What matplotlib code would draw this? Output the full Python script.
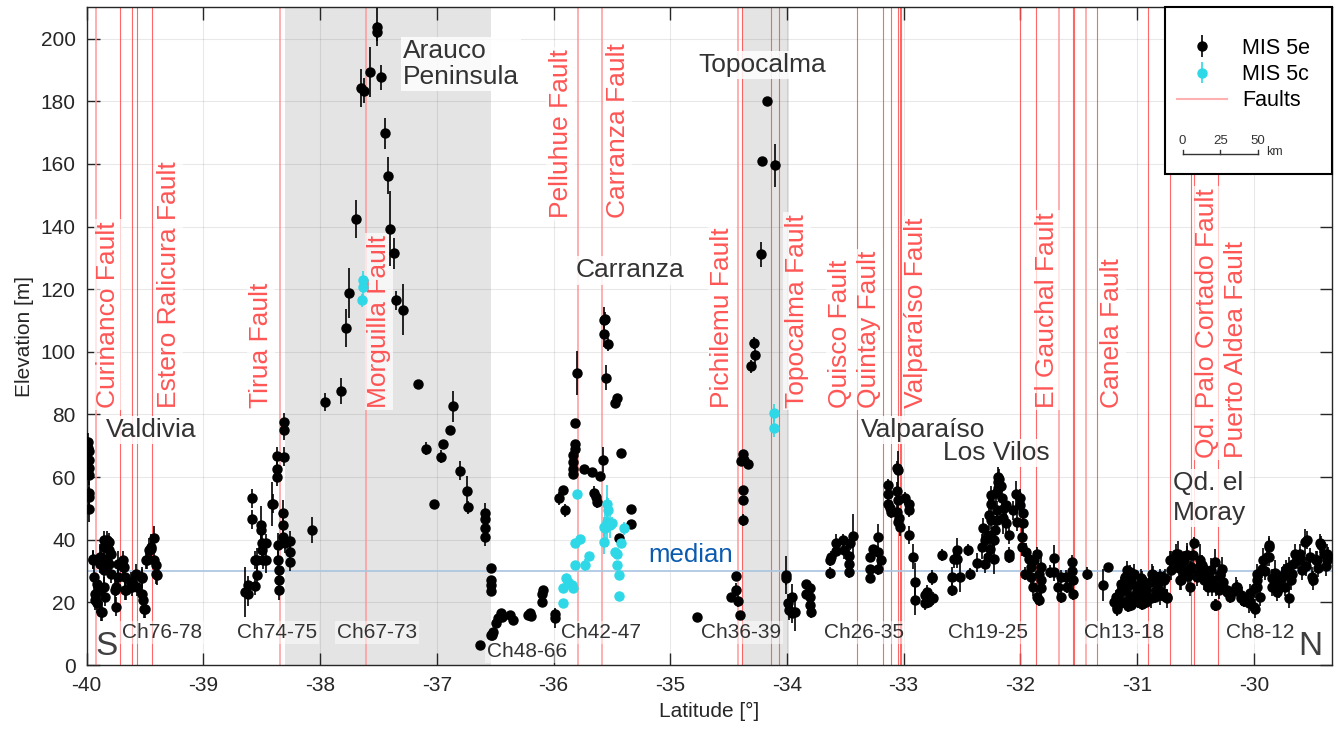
import numpy as np
import matplotlib
matplotlib.use("Agg")
import matplotlib.pyplot as plt
from matplotlib.lines import Line2D
from matplotlib.patches import Rectangle

plt.rcParams['font.family'] = ['Liberation Sans', 'DejaVu Sans']
plt.rcParams['axes.unicode_minus'] = False

# ---- data: (latitude, elevation, error) ----
# MIS 5e terraces, grouped by chart region
ch76_78 = [
    (-39.99, 71.2, 3), (-39.99, 69.2, 3), (-39.98, 68.4, 3), (-39.98, 65.4, 3), (-39.98, 62.8, 3),
    (-39.98, 60.6, 3), (-39.98, 54.9, 4), (-39.98, 53.7, 3), (-39.98, 49.8, 4),
    (-39.95, 33.7, 3), (-39.95, 33.5, 3), (-39.94, 28.2, 5), (-39.93, 22.8, 4), (-39.93, 20.7, 3),
    (-39.91, 26.0, 3), (-39.91, 19.7, 3), (-39.89, 34.5, 4), (-39.89, 32.4, 3), (-39.89, 23.9, 3),
    (-39.88, 34.5, 3), (-39.88, 17.0, 3), (-39.87, 17.0, 3), (-39.85, 39.9, 3), (-39.85, 37.7, 3),
    (-39.85, 30.3, 4), (-39.85, 25.0, 3), (-39.84, 21.8, 3), (-39.83, 39.9, 3), (-39.83, 37.7, 3),
    (-39.83, 33.5, 3), (-39.81, 36.7, 3), (-39.81, 39.3, 3), (-39.81, 32.4, 3), (-39.79, 35.6, 4),
    (-39.79, 29.2, 3), (-39.76, 23.9, 5), (-39.75, 25.0, 3), (-39.75, 18.6, 3), (-39.73, 32.4, 4),
    (-39.73, 28.2, 3), (-39.69, 33.5, 3), (-39.69, 31.3, 3), (-39.68, 31.4, 3), (-39.67, 23.9, 3),
    (-39.66, 23.9, 3), (-39.67, 28.2, 5), (-39.62, 26.6, 3), (-39.61, 26.0, 3), (-39.61, 25.0, 3),
    (-39.58, 29.2, 3), (-39.57, 25.0, 3), (-39.53, 27.7, 3), (-39.53, 28.2, 3), (-39.53, 22.8, 3),
    (-39.52, 20.7, 3), (-39.51, 18.0, 3), (-39.50, 18.0, 3), (-39.49, 33.5, 3), (-39.48, 33.5, 3),
    (-39.47, 36.7, 4), (-39.45, 37.7, 4), (-39.45, 37.2, 3), (-39.42, 40.4, 4), (-39.42, 33.5, 3),
    (-39.41, 31.9, 3), (-39.41, 29.0, 3), (-39.40, 28.7, 3),
]
ch74_75 = [
    (-38.64, 23.4, 8), (-38.62, 22.8, 4), (-38.62, 25.5, 3), (-38.58, 53.2, 3), (-38.58, 46.5, 3),
    (-38.56, 33.5, 3), (-38.56, 25.2, 3), (-38.54, 28.7, 3), (-38.54, 33.5, 4), (-38.51, 44.7, 6),
    (-38.51, 43.1, 3), (-38.50, 38.8, 3), (-38.50, 36.7, 3), (-38.49, 33.5, 3), (-38.46, 38.8, 3),
    (-38.46, 33.5, 4), (-38.41, 51.5, 7), (-38.40, 51.5, 3), (-38.37, 62.7, 3), (-38.37, 60.1, 3),
    (-38.37, 66.7, 3), (-38.36, 38.3, 4), (-38.36, 33.5, 3), (-38.35, 30.3, 3), (-38.35, 27.1, 3),
    (-38.35, 23.9, 3), (-38.32, 48.6, 4), (-38.32, 44.7, 3), (-38.32, 40.9, 3), (-38.31, 77.6, 3),
    (-38.31, 75.0, 3), (-38.31, 66.5, 3), (-38.30, 38.8, 3), (-38.26, 39.7, 3), (-38.26, 36.1, 3),
    (-38.26, 33.0, 3), (-38.07, 43.1, 4),
]
ch67_73 = [
    (-37.96, 84.0, 3), (-37.82, 87.5, 4), (-37.78, 107.6, 6), (-37.75, 118.8, 8), (-37.69, 142.5, 6),
    (-37.65, 184.2, 6), (-37.62, 183.4, 4), (-37.57, 189.3, 8), (-37.51, 203.8, 6), (-37.51, 202.2, 3),
    (-37.48, 187.7, 4), (-37.44, 169.8, 5), (-37.42, 156.3, 6), (-37.40, 139.3, 12), (-37.37, 131.5, 5),
    (-37.35, 116.4, 3), (-37.29, 113.5, 8), (-37.16, 89.8, 1), (-37.09, 69.1, 2), (-37.02, 51.5, 1),
    (-36.96, 66.5, 2), (-36.95, 70.7, 1), (-36.89, 75.0, 1), (-36.86, 82.6, 5), (-36.80, 62.0, 3),
    (-36.74, 55.5, 5), (-36.73, 50.3, 2), (-36.59, 48.6, 3), (-36.59, 46.5, 2), (-36.59, 43.6, 2),
    (-36.59, 40.9, 3), (-36.54, 31.0, 1), (-36.54, 27.1, 1), (-36.54, 25.5, 1), (-36.54, 23.7, 1),
]
ch48_66 = [
    (-36.63, 6.4, 1), (-36.54, 9.6, 1), (-36.53, 9.6, 1), (-36.52, 10.6, 1), (-36.49, 13.3, 1),
    (-36.48, 14.9, 1), (-36.45, 16.5, 1), (-36.44, 15.4, 1), (-36.37, 15.9, 1), (-36.35, 14.5, 1),
    (-36.22, 15.9, 1), (-36.20, 16.5, 1), (-36.19, 15.6, 1), (-36.10, 20.2, 1), (-36.10, 22.8, 1),
    (-36.09, 23.9, 1), (-35.99, 14.9, 3), (-35.99, 16.3, 2),
]
ch42_47 = [
    (-35.95, 53.2, 2), (-35.92, 56.0, 1), (-35.90, 49.4, 2), (-35.83, 62.7, 2), (-35.83, 61.1, 1),
    (-35.83, 64.8, 1), (-35.83, 67.0, 1), (-35.82, 69.1, 1), (-35.82, 70.7, 1), (-35.82, 77.3, 1),
    (-35.80, 93.3, 7), (-35.74, 62.7, 1), (-35.67, 61.7, 1), (-35.65, 55.0, 2), (-35.64, 53.7, 2),
    (-35.63, 52.1, 2), (-35.60, 60.3, 1), (-35.58, 65.6, 4), (-35.55, 91.8, 4), (-35.57, 110.3, 4),
    (-35.56, 110.6, 2), (-35.57, 105.6, 4), (-35.53, 102.4, 2), (-35.47, 83.7, 1), (-35.46, 85.4, 1),
    (-35.42, 67.7, 1), (-35.34, 49.8, 1), (-35.34, 45.0, 1), (-35.44, 40.7, 1),
]
ch36_39 = [
    (-34.77, 15.2, 1), (-34.48, 21.6, 1), (-34.44, 24.1, 2), (-34.44, 28.4, 1), (-34.42, 20.5, 2),
    (-34.40, 15.9, 1), (-34.38, 52.6, 1), (-34.38, 56.0, 1), (-34.38, 46.3, 2), (-34.39, 65.1, 1),
    (-34.38, 67.5, 1), (-34.37, 65.6, 1), (-34.33, 64.1, 1), (-34.31, 95.4, 2), (-34.28, 102.8, 2),
    (-34.27, 98.9, 3), (-34.22, 131.1, 4), (-34.21, 160.8, 1), (-34.17, 180.2, 1), (-34.10, 159.5, 7),
    (-34.01, 28.7, 6), (-34.01, 27.7, 2), (-33.99, 19.7, 3), (-33.98, 17.5, 3), (-33.96, 21.8, 4),
    (-33.96, 16.5, 3), (-33.93, 17.0, 6), (-33.84, 25.8, 1), (-33.84, 22.8, 1), (-33.80, 21.8, 2),
    (-33.80, 19.1, 2), (-33.79, 17.0, 2), (-33.80, 24.5, 1),
]
ch26_35 = [
    (-33.63, 33.5, 2), (-33.63, 29.4, 2), (-33.62, 34.5, 2), (-33.58, 38.8, 3), (-33.58, 36.4, 2),
    (-33.52, 39.9, 2), (-33.51, 36.7, 3), (-33.47, 34.8, 2), (-33.47, 32.4, 3), (-33.46, 38.8, 2),
    (-33.47, 29.8, 2), (-33.43, 41.1, 7), (-33.29, 27.7, 1), (-33.29, 30.8, 1), (-33.29, 34.5, 1),
    (-33.26, 37.2, 1), (-33.22, 40.9, 4), (-33.22, 36.1, 2), (-33.22, 30.8, 2), (-33.19, 33.5, 2),
    (-33.13, 51.5, 2), (-33.13, 54.7, 2), (-33.13, 57.4, 2), (-33.12, 50.0, 2), (-33.11, 48.9, 2),
    (-33.06, 48.9, 3), (-33.06, 55.5, 3), (-33.06, 63.0, 2), (-33.05, 62.2, 6), (-33.05, 45.7, 3),
    (-33.05, 52.6, 3), (-33.04, 47.0, 3), (-33.03, 44.1, 3), (-32.99, 53.2, 2), (-32.95, 51.5, 2),
    (-32.95, 49.4, 2), (-32.95, 41.5, 3), (-32.92, 34.5, 4), (-32.90, 26.6, 6), (-32.90, 20.9, 5),
    (-32.82, 19.7, 2), (-32.82, 22.3, 2), (-32.80, 23.4, 2), (-32.79, 20.2, 2), (-32.76, 28.2, 2),
    (-32.76, 27.7, 2), (-32.75, 21.3, 2),
]
ch19_25 = [
    (-32.67, 35.1, 2), (-32.59, 24.1, 2), (-32.59, 28.2, 3), (-32.57, 34.0, 3), (-32.54, 36.7, 4),
    (-32.54, 34.0, 3), (-32.52, 28.2, 5), (-32.45, 36.7, 2), (-32.43, 29.0, 2), (-32.37, 32.7, 3),
    (-32.33, 37.7, 4), (-32.32, 43.9, 3), (-32.30, 32.4, 3), (-32.30, 39.9, 3), (-32.28, 41.5, 3),
    (-32.28, 34.5, 3), (-32.27, 48.0, 5), (-32.26, 37.2, 3), (-32.25, 46.3, 3), (-32.23, 34.0, 5),
    (-32.23, 39.9, 3), (-32.22, 43.1, 3), (-32.25, 54.2, 3), (-32.25, 51.5, 3), (-32.21, 55.0, 3),
    (-32.19, 60.1, 3), (-32.19, 58.5, 3), (-32.19, 56.4, 3), (-32.18, 59.5, 3), (-32.17, 57.0, 3),
    (-32.20, 49.4, 3), (-32.20, 46.3, 4), (-32.16, 53.2, 3), (-32.15, 46.8, 5), (-32.14, 50.0, 3),
    (-32.12, 51.0, 3), (-32.12, 45.2, 3), (-32.10, 35.6, 2), (-32.10, 34.5, 2), (-32.10, 41.5, 3),
    (-32.06, 49.4, 3), (-32.04, 54.7, 4), (-32.03, 45.7, 3), (-32.00, 53.2, 3), (-32.00, 51.0, 3),
    (-31.98, 48.4, 3), (-31.99, 40.9, 3), (-31.99, 37.7, 3), (-31.98, 45.2, 3), (-31.96, 29.2, 2),
    (-31.95, 36.1, 3), (-31.93, 34.0, 3), (-31.91, 31.4, 3), (-31.91, 28.2, 3), (-31.89, 25.0, 3),
    (-31.88, 33.5, 3), (-31.86, 35.6, 2), (-31.86, 21.8, 2), (-31.84, 20.9, 2), (-31.84, 29.2, 3),
    (-31.82, 27.1, 3), (-31.82, 24.5, 3), (-31.82, 31.4, 3), (-31.75, 29.8, 2), (-31.71, 34.3, 4),
    (-31.71, 29.8, 3), (-31.68, 25.0, 3), (-31.65, 21.8, 2), (-31.65, 28.2, 2), (-31.61, 28.2, 2),
    (-31.60, 25.0, 2), (-31.56, 33.0, 2), (-31.56, 30.1, 2), (-31.55, 27.1, 3), (-31.55, 22.6, 2),
    (-31.43, 29.2, 2),
]
ch13_18 = [
    (-31.29, 25.5, 5), (-31.25, 31.4, 1), (-31.20, 20.0, 2), (-31.18, 21.8, 2), (-31.17, 18.6, 3),
    (-31.17, 21.8, 2), (-31.17, 18.0, 2), (-31.15, 23.4, 2), (-31.14, 26.0, 2), (-31.13, 25.0, 3),
    (-31.12, 20.2, 2), (-31.10, 24.0, 3), (-31.10, 28.2, 3), (-31.09, 30.3, 3), (-31.09, 26.6, 3),
    (-31.08, 19.0, 2), (-31.06, 21.8, 2), (-31.06, 29.8, 2), (-31.05, 27.0, 2), (-31.05, 19.1, 2),
    (-31.05, 26.0, 3), (-31.03, 29.2, 3), (-31.01, 22.8, 3), (-31.00, 23.9, 2), (-31.00, 20.7, 2),
    (-30.99, 20.2, 2), (-30.98, 25.5, 2), (-30.97, 27.7, 3), (-30.96, 27.1, 3), (-30.96, 19.5, 2),
    (-30.95, 22.8, 2), (-30.93, 23.5, 2), (-30.92, 23.9, 3), (-30.92, 20.2, 2), (-30.92, 25.0, 3),
    (-30.89, 26.5, 3), (-30.88, 21.3, 3), (-30.87, 29.2, 3), (-30.86, 28.7, 3), (-30.85, 21.8, 2),
    (-30.84, 24.0, 2), (-30.83, 25.5, 3), (-30.82, 26.6, 3), (-30.80, 28.5, 2), (-30.80, 22.3, 3),
    (-30.79, 23.4, 2), (-30.77, 22.0, 2), (-30.77, 27.1, 3), (-30.76, 27.7, 3), (-30.74, 21.8, 2),
    (-30.74, 21.3, 3),
]
ch8_12 = [
    (-30.72, 33.5, 3), (-30.71, 33.5, 3), (-30.71, 30.3, 3), (-30.67, 33.0, 3), (-30.67, 35.6, 3),
    (-30.65, 35.6, 4), (-30.64, 31.0, 3), (-30.63, 27.1, 3), (-30.62, 27.1, 3), (-30.62, 31.9, 3),
    (-30.60, 33.5, 3), (-30.59, 29.8, 3), (-30.57, 35.1, 3), (-30.57, 35.1, 4), (-30.56, 28.5, 3),
    (-30.55, 25.0, 3), (-30.55, 30.3, 3), (-30.54, 31.4, 3), (-30.52, 35.0, 4), (-30.51, 39.0, 2),
    (-30.49, 28.2, 3), (-30.47, 29.5, 3), (-30.46, 33.5, 5), (-30.46, 31.9, 3), (-30.44, 32.0, 3),
    (-30.43, 27.1, 3), (-30.43, 30.8, 3), (-30.41, 28.0, 3), (-30.40, 28.2, 3), (-30.39, 25.0, 3),
    (-30.37, 30.3, 4), (-30.36, 25.0, 3), (-30.35, 27.0, 3), (-30.33, 33.0, 4), (-30.33, 19.1, 2),
    (-30.32, 19.1, 2), (-30.32, 25.0, 3), (-30.30, 24.0, 3), (-30.29, 28.7, 3), (-30.29, 29.2, 3),
    (-30.27, 30.5, 4), (-30.26, 26.6, 3), (-30.23, 23.4, 2), (-30.23, 23.9, 3), (-30.20, 21.8, 2),
    (-30.17, 23.5, 2), (-30.15, 25.0, 3), (-30.14, 25.0, 2), (-30.11, 21.3, 2), (-30.11, 22.3, 2),
    (-30.10, 21.8, 3), (-30.08, 20.5, 2), (-30.04, 20.7, 2), (-30.04, 19.7, 3), (-30.03, 23.0, 3),
    (-30.00, 18.6, 2), (-29.99, 24.5, 3), (-29.99, 18.0, 3), (-29.97, 27.1, 3), (-29.97, 29.2, 3),
    (-29.97, 25.0, 3), (-29.95, 21.8, 3), (-29.93, 30.8, 3), (-29.92, 33.5, 4), (-29.90, 30.0, 3),
    (-29.89, 34.5, 3), (-29.87, 37.7, 3), (-29.87, 34.5, 3), (-29.87, 38.3, 3), (-29.84, 25.0, 3),
    (-29.84, 27.7, 3), (-29.82, 29.5, 4), (-29.80, 23.4, 3), (-29.78, 24.5, 3), (-29.78, 27.1, 3),
    (-29.76, 28.2, 3), (-29.74, 29.2, 3), (-29.73, 25.0, 3), (-29.72, 30.5, 3), (-29.70, 31.4, 3),
    (-29.70, 21.3, 3), (-29.68, 27.0, 3), (-29.67, 29.2, 3), (-29.66, 32.4, 3), (-29.65, 35.6, 3),
    (-29.62, 33.5, 3), (-29.60, 34.0, 3), (-29.60, 35.6, 3), (-29.59, 30.3, 3), (-29.56, 39.3, 4),
    (-29.55, 31.5, 3), (-29.54, 39.9, 3), (-29.52, 34.5, 3), (-29.50, 28.2, 3), (-29.49, 27.1, 3),
    (-29.47, 33.5, 3), (-29.46, 33.5, 3), (-29.45, 31.0, 3), (-29.43, 38.8, 3), (-29.42, 38.3, 3),
    (-29.40, 35.6, 3), (-29.38, 31.5, 3), (-29.37, 33.5, 3), (-29.37, 35.6, 3), (-29.36, 34.8, 3),
]

# MIS 5c terraces
mis5c = [
    (-37.63, 122.8, 3), (-37.63, 120.7, 3), (-37.64, 116.4, 2),
    (-35.92, 19.9, 1), (-35.92, 24.5, 1), (-35.89, 27.7, 1), (-35.88, 26.6, 1), (-35.84, 25.5, 1),
    (-35.83, 24.5, 1), (-35.82, 31.9, 1), (-35.82, 38.8, 1), (-35.80, 54.7, 1), (-35.77, 40.1, 1),
    (-35.73, 31.9, 2), (-35.70, 34.8, 1), (-35.57, 39.3, 4), (-35.56, 43.6, 5), (-35.54, 51.5, 6),
    (-35.53, 49.4, 4), (-35.54, 45.7, 8), (-35.52, 44.7, 4), (-35.57, 44.1, 3), (-35.50, 45.2, 2),
    (-35.47, 36.1, 1), (-35.46, 35.4, 1), (-35.46, 31.9, 1), (-35.44, 28.7, 1), (-35.44, 22.1, 1),
    (-35.42, 38.8, 1), (-35.40, 43.6, 2),
    (-34.11, 80.5, 3), (-34.11, 75.8, 3),
]

median_elev = 30.1

# faults
faults_strong = [-39.717, -39.614, -39.566, -39.44, -34.387, -34.139, -34.065, -33.40, -33.18,
                 -33.11, -33.05, -33.03, -33.02, -32.0, -31.866, -31.55, -31.537, -31.34,
                 -30.91, -30.72, -30.535, -30.51, -30.31]
faults_pale = [-39.923, -38.344, -37.609, -35.787, -35.587, -34.416, -31.667, -31.44]

fault_names = ['Curinanco Fault', 'Estero Ralicura Fault', 'Tirua Fault', 'Morguilla Fault',
               'Pelluhue Fault', 'Carranza Fault', 'Pichilemu Fault', 'Topocalma Fault',
               'Quisco Fault', 'Quintay Fault', 'Valparaíso Fault', 'El Gauchal Fault',
               'Canela Fault', 'Qd. Palo Cortado Fault', 'Puerto Aldea Fault']
fault_label_lat = [-39.819, -39.296, -38.505, -37.494, -35.94, -35.449, -34.556, -33.913,
                   -33.542, -33.295, -32.892, -31.769, -31.217, -30.40, -30.152]
fault_label_y = [82, 82, 82, 82, 142.6, 142.6, 82, 82, 82, 82, 82, 82, 82, 66, 66]

# shaded zones of high uplift
zones = [(-38.303, -36.538), (-34.382, -33.98)]

regions = ['Valdivia', 'Arauco\nPeninsula', 'Carranza', 'Topocalma', 'Valparaíso', 'Los Vilos',
           'Qd. el\nMoray']
region_lat = [-39.834, -37.29, -35.815, -34.76, -33.37, -32.66, -30.69]
region_y = [75, 191.9, 126, 191.5, 75, 67.8, 53.4]

charts = ['Ch76-78', 'Ch74-75', 'Ch67-73', 'Ch48-66', 'Ch42-47', 'Ch36-39', 'Ch26-35',
          'Ch19-25', 'Ch13-18', 'Ch8-12']
chart_lat = [-39.355, -38.37, -37.515, -36.227, -35.595, -34.395, -33.34, -32.274, -31.114, -29.945]
chart_y = [10.5, 10.5, 10.5, 4.2, 10.5, 10.5, 10.5, 10.5, 10.5, 10.5]

scale_km = [0, 25, 50]

# ---- plot ----
fig = plt.figure(figsize=(13.38, 7.34), dpi=100)
ax = fig.add_axes([0.0648, 0.094, 0.9307, 0.896])
ax.set_axisbelow(True)

for z0, z1 in zones:
    ax.axvspan(z0, z1, color='#e4e4e4', lw=0, zorder=0.2)

for f in faults_strong:
    ax.axvline(f, color='#ff4d4d', lw=0.8, alpha=0.85, zorder=1)
for f in faults_pale:
    ax.axvline(f, color='#ff9a9a', lw=1.4, alpha=0.8, zorder=1)

ax.axhline(median_elev, color='#a9c4e0', lw=1.2, zorder=1.5)
ax.text(-34.823, 35, 'median', color='#0a5bb0', fontsize=18.5, ha='center', va='center', zorder=3)

box = dict(facecolor='white', edgecolor='none', alpha=0.7, pad=1.5)
for name, x, y in zip(fault_names, fault_label_lat, fault_label_y):
    ax.text(x, y, name, rotation=90, color='#ff5555', fontsize=19, ha='center', va='bottom',
            bbox=box, zorder=3)

for name, x, y in zip(regions, region_lat, region_y):
    # the two-line Moray label has looser spacing in the original
    spacing = 1.3 if 'Moray' in name else 1.12
    ax.text(x, y, name, color='#333333', fontsize=19, ha='left', va='center',
            linespacing=spacing, bbox=dict(facecolor='white', edgecolor='none', alpha=0.85, pad=1.5),
            zorder=3)

for name, x, y in zip(charts, chart_lat, chart_y):
    ax.text(x, y, name, color='#333333', fontsize=15, ha='center', va='center',
            bbox=dict(facecolor='white', edgecolor='none', alpha=0.5, pad=1.5), zorder=3)

ax.text(0.0163, 0.028, 'S', transform=ax.transAxes, fontsize=24, color='#404040',
        ha='center', va='center', zorder=3)
ax.text(0.9823, 0.028, 'N', transform=ax.transAxes, fontsize=24, color='#404040',
        ha='center', va='center', zorder=3)

segments_5e = ch76_78 + ch74_75 + ch67_73 + ch48_66 + ch42_47 + ch36_39 + ch26_35 + ch19_25 + ch13_18 + ch8_12
lat5e, elev5e, err5e = np.array(segments_5e).T
lat5c, elev5c, err5c = np.array(mis5c).T

h5e = ax.errorbar(lat5e, elev5e, yerr=err5e, fmt='o', color='black', ms=6.5, elinewidth=1.2,
                  capsize=0, zorder=4, label='MIS 5e')
h5c = ax.errorbar(lat5c, elev5c, yerr=err5c, fmt='o', color='#2fd8e6', ms=6.5, elinewidth=1.2,
                  capsize=0, zorder=4.5, label='MIS 5c')
hf = Line2D([], [], color='#ffb0b0', lw=1.5, label='Faults')

ax.set_xlim(-40, -29.33)
ax.set_ylim(0, 210)
ax.set_xticks(np.arange(-40, -29, 1))
ax.set_yticks(np.arange(0, 201, 20))
ax.grid(True, color='#262626', alpha=0.1, lw=0.8)
ax.tick_params(direction='in', top=True, right=True, length=9, width=1, colors='#262626',
               labelsize=15, pad=8)
for s in ax.spines.values():
    s.set_color('#262626')
    s.set_linewidth(1)
ax.set_xlabel('Latitude [°]', fontsize=15, color='#262626', labelpad=5)
ax.set_ylabel('Elevation [m]', fontsize=15, color='#262626', labelpad=5)

# legend box with scale bar
ax.add_patch(Rectangle((0.8659, 0.7466), 0.1341, 0.2534, transform=ax.transAxes,
                       facecolor='white', edgecolor='black', lw=1.5, zorder=5, clip_on=False))
leg = ax.legend(handles=[h5e, h5c, hf], loc='upper left', bbox_to_anchor=(0.8689, 0.967),
                frameon=False, fontsize=15.5, handlelength=2.3, handletextpad=0.7,
                labelspacing=0.25, borderaxespad=0)
leg.set_zorder(6)

sx0, sx1, sy = 0.8801, 0.9408, 0.7765
ax.plot([sx0, sx1], [sy, sy], color='#333333', lw=1, transform=ax.transAxes, zorder=7,
        clip_on=False)
for km in scale_km:
    xk = sx0 + (sx1 - sx0) * km / scale_km[-1]
    ax.plot([xk, xk], [sy, sy + 0.007], color='#333333', lw=1, transform=ax.transAxes,
            zorder=7, clip_on=False)
    ax.text(xk, sy + 0.011, str(km), transform=ax.transAxes, fontsize=9.5, color='#333333',
            ha='center', va='bottom', zorder=7)
ax.text(sx1 + 0.006, sy + 0.004, 'km', transform=ax.transAxes, fontsize=9, color='#333333',
        ha='left', va='center', zorder=7)

fig.savefig('out.png', dpi=100)
